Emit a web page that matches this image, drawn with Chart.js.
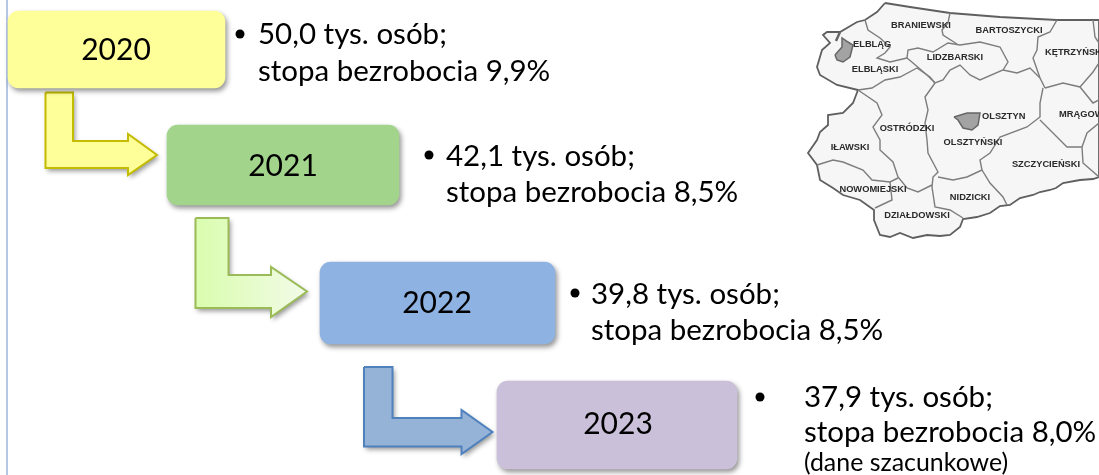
<!DOCTYPE html>
<html>
<head>
<meta charset="utf-8">
<title>Bezrobocie 2020-2023</title>
<style>
  body { margin: 0; background: #fff; }
  canvas { display: block; }
</style>
<script src="https://cdn.jsdelivr.net/npm/chart.js@4/dist/chart.umd.js"></script>
</head>
<body>
<canvas id="myChart" width="1099" height="475"></canvas>
<script>
// values
const years = [2020, 2021, 2022, 2023];
const persons = [50.0, 42.1, 39.8, 37.9];
const rates = [9.9, 8.5, 8.5, 8.0];
const note = '(dane szacunkowe)';

// boxes, x from-to and y centre, in px units of the hidden scales
const boxX = [[8, 225], [167, 399], [320, 555], [497, 737]];
const boxY = [49.5, 165, 303, 425];
const boxH = [77, 80, 82, 88];
const boxColors = ['#ffff99', '#a2d48b', '#8eb2e2', '#cbc0da'];
const yearPos = [[116, 50], [283, 166], [437, 303], [618, 424]];
const bulletPos = [[240, 34], [429, 155], [575, 293], [760, 397]];
const textPos = [[258, 34, 71], [446, 156, 192], [591, 294, 330], [804, 397, 432]];

const arrow1 = [[45.5,92.5],[73,92.5],[73,141],[128,141],[128,134],[157,155],[128,175],[128,168],[45.5,168],[45.5,92.5]];
const arrow2 = [[195.5,218],[228.5,218],[228.5,275],[271,275],[271,267],[307,291.5],[271,317],[271,308],[195.5,308],[195.5,218]];
const arrow3 = [[364,367],[392.5,367],[392.5,418],[461.5,418],[461.5,410],[492.5,432],[461.5,454],[461.5,446.5],[364,446.5],[364,367]];
const leftLine = [[7, 0], [7, 475]];

// map of the voivodeship, traced by hand
const mapOutline = [[885,3],[910,7],[950,13],[1000,17],[1057,20],[1093,20],[1099,20],[1099,177],[1093,179],[1080,180],[1063,183],[1056,188],[1050,190],[1040,192],[1033,195],[1020,198],[1010,205],[1000,206],[990,213],[977,217],[963,219],[960,227],[950,235],[940,236],[927,235],[913,238],[900,233],[890,237],[880,235],[874,220],[874,210],[860,200],[843,195],[833,188],[820,180],[817,165],[808,153],[817,140],[820,132],[828,125],[828,115],[843,113],[853,103],[858,90],[837,85],[820,75],[817,67],[822,50],[830,43],[823,35],[827,32],[840,32],[857,22],[865,20],[877,12],[885,3]];
const mapBorders = [
  [[865,20],[868,30],[880,38],[890,47],[885,53],[877,58],[890,62],[907,58]],
  [[907,58],[908,50],[918,48],[933,52],[948,43],[960,45],[980,42],[1000,47],[1008,62],[1003,70],[980,80],[970,75],[960,65],[950,70],[943,80],[935,83],[927,75],[913,63],[907,58]],
  [[950,13],[948,23],[942,30],[943,35],[957,44]],
  [[1057,20],[1050,32],[1038,37],[1037,50],[1033,58],[1040,78],[1045,88]],
  [[1003,70],[1017,73],[1030,68],[1040,78]],
  [[1045,88],[1063,83],[1080,87],[1093,103],[1099,100]],
  [[1080,87],[1093,72],[1099,63]],
  [[1093,20],[1095,37],[1099,43]],
  [[935,83],[925,97],[928,110],[925,123],[927,140],[928,153],[938,172],[933,177],[932,187],[935,207],[950,210],[963,218]],
  [[1043,88],[1040,103],[1040,117],[1027,127],[1000,137],[990,153],[980,160],[982,170],[967,177],[953,180],[938,177]],
  [[982,170],[990,183],[1003,197],[1007,205]],
  [[1040,120],[1057,137],[1067,147],[1082,147],[1083,163],[1099,177]],
  [[1082,147],[1087,133],[1099,123]],
  [[935,83],[930,77],[917,68],[900,77],[885,80],[872,88],[858,90]],
  [[858,90],[877,103],[882,115],[873,127],[880,140],[880,150],[893,162],[898,177],[907,188],[918,192],[932,185]],
  [[817,165],[833,160],[843,162],[863,170],[872,180],[890,182],[898,178]],
  [[890,182],[892,200],[875,208]]
];
const cityElblag = [[835,55],[842,47],[842,38],[848,42],[853,45],[850,57],[843,62],[837,60],[835,55]];
const cityOlsztyn = [[954,117],[967,113],[980,113],[978,125],[972,130],[963,128],[958,120],[954,117]];
const spitElblag = [[836,41],[840,32]];
const mapNames = ['BRANIEWSKI','BARTOSZYCKI','KĘTRZYŃSKI','ELBLĄG','LIDZBARSKI','ELBLĄSKI','OLSZTYN','MRĄGOWSKI','OSTRÓDZKI','OLSZTYŃSKI','IŁAWSKI','SZCZYCIEŃSKI','NOWOMIEJSKI','NIDZICKI','DZIAŁDOWSKI'];
const mapNamePos = [[921,25],[1009,30],[1045,52],[853,44],[955,57],[875,69],[982,116],[1059,114],[907,128],[973,142],[850,147],[1046,164],[873,189],[970,197],[917,215]];
const mapNameLeft = ['KĘTRZYŃSKI','ELBLĄG','OLSZTYN','MRĄGOWSKI'];

const BODY_FONT = 'Lato';
const fmt = v => v.toFixed(1).replace('.', ',');

const canvas = document.getElementById('myChart');
const ctx = canvas.getContext('2d');

const grad2 = ctx.createLinearGradient(195, 0, 307, 0);
grad2.addColorStop(0, '#d9fdad');
grad2.addColorStop(1, '#f2fbe8');

function shapeSet(data, bg, border, width, shadow) {
  return { type: 'scatter', data: data, showLine: true, pointRadius: 0, tension: 0,
    fill: bg ? 'shape' : false, backgroundColor: bg || 'transparent',
    borderColor: border, borderWidth: width, borderJoinStyle: 'miter', shadow: shadow };
}

const datasets = [];
years.forEach((y, i) => {
  datasets.push({ type: 'bar', indexAxis: 'y', grouped: false, label: String(y),
    data: [{ x: boxX[i], y: boxY[i] }], barThickness: boxH[i], borderRadius: 11,
    borderSkipped: false, backgroundColor: boxColors[i], shadow: true });
});
datasets.push(shapeSet(arrow1, '#ffff99', '#c4bc00', 2, true));
datasets.push(shapeSet(arrow2, grad2, '#9bbb59', 2, true));
datasets.push(shapeSet(arrow3, '#95b3d7', '#4f81bd', 2, true));
datasets.push(shapeSet(cityElblag, '#a3a3a3', '#666666', 1.5));
datasets.push(shapeSet(cityOlsztyn, '#a3a3a3', '#666666', 1.5));
datasets.push(shapeSet(spitElblag, null, '#666666', 2.5));
mapBorders.forEach(b => datasets.push(shapeSet(b, null, '#7d7d7d', 1.4)));
datasets.push(shapeSet(mapOutline, '#f6f6f6', '#5f5f5f', 1.8));
datasets.push(shapeSet(leftLine, null, '#b4c7e7', 2));

// has to run before the filler so the arrow fill gets its shadow
const shadowOn = {
  id: 'shadowOn',
  beforeDatasetDraw(chart, args) {
    const c = chart.ctx;
    c.save();
    if (chart.data.datasets[args.index].shadow) {
      c.shadowColor = 'rgba(0,0,0,0.42)';
      c.shadowBlur = 5;
      c.shadowOffsetX = 2;
      c.shadowOffsetY = 3;
    }
  },
  afterDatasetDraw(chart) { chart.ctx.restore(); }
};
const filler = Chart.registry.getPlugin('filler');
Chart.unregister(filler);
Chart.register(shadowOn, filler);

const shadowOff = {
  id: 'shadowOff',
  beforeDatasetDraw(chart, args) {
    if (chart.data.datasets[args.index].type === 'scatter') {
      chart.ctx.shadowColor = 'transparent';
    }
  }
};

const labels = {
  id: 'labels',
  afterDatasetsDraw(chart) {
    const c = chart.ctx, sx = chart.scales.x, sy = chart.scales.y;
    const px = v => sx.getPixelForValue(v), py = v => sy.getPixelForValue(v);
    c.save();
    c.textBaseline = 'middle';
    c.fillStyle = '#2a2a2a';
    c.font = 'bold 9.3px "Liberation Sans"';
    mapNames.forEach((n, i) => {
      c.textAlign = mapNameLeft.includes(n) ? 'left' : 'center';
      c.fillText(n, px(mapNamePos[i][0]), py(mapNamePos[i][1]));
    });
    c.fillStyle = '#000';
    years.forEach((y, i) => {
      c.textAlign = 'center';
      c.font = '30px ' + BODY_FONT;
      c.fillText(String(y), px(yearPos[i][0]), py(yearPos[i][1]));
      c.textAlign = 'left';
      c.font = '29.5px ' + BODY_FONT;
      c.beginPath();
      c.arc(px(bulletPos[i][0]), py(bulletPos[i][1]), 4.5, 0, Math.PI * 2);
      c.fill();
      c.fillText(fmt(persons[i]) + ' tys. osób;', px(textPos[i][0]), py(textPos[i][1]));
      c.fillText('stopa bezrobocia ' + fmt(rates[i]) + '%', px(textPos[i][0]), py(textPos[i][2]));
    });
    c.font = '24.9px ' + BODY_FONT;
    c.fillText(note, px(804), py(463));
    c.restore();
  }
};

new Chart(canvas, {
  type: 'scatter',
  data: { datasets: datasets },
  plugins: [shadowOff, labels],
  options: {
    responsive: false,
    animation: false,
    events: [],
    layout: { padding: 0 },
    scales: {
      x: { type: 'linear', display: false, min: 0, max: 1099, offset: false },
      y: { type: 'linear', display: false, min: 0, max: 475, reverse: true, offset: false, beginAtZero: false }
    },
    plugins: { legend: { display: false }, tooltip: { enabled: false }, title: { display: false } }
  }
});
</script>
</body>
</html>
